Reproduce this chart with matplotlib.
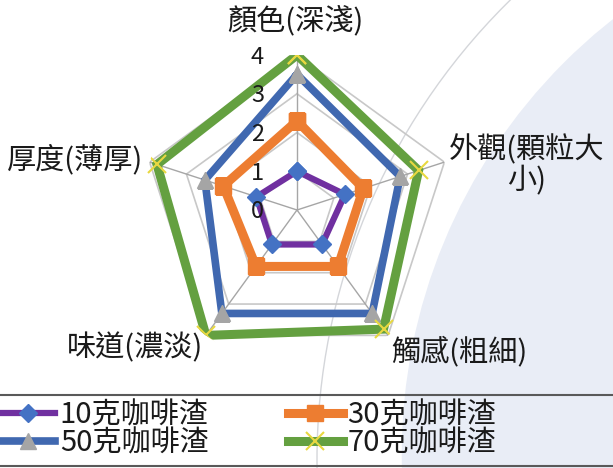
import numpy as np
import matplotlib
matplotlib.use("Agg")
import matplotlib.pyplot as plt
from matplotlib.lines import Line2D
from matplotlib.patches import Ellipse

plt.rcParams['font.family'] = ['Noto Sans CJK TC', 'DejaVu Sans']

# ---- data ----
categories = ['顏色(深淺)', '外觀(顆粒大\n小)', '觸感(粗細)', '味道(濃淡)', '厚度(薄厚)']
series_names = ['10克咖啡渣', '30克咖啡渣', '50克咖啡渣', '70克咖啡渣']
values_10 = [1.0, 1.3, 1.1, 1.1, 1.1]
values_30 = [2.3, 1.8, 1.8, 1.8, 2.0]
values_50 = [3.5, 2.8, 3.3, 3.3, 2.5]
values_70 = [4.0, 3.3, 3.8, 4.0, 3.8]
tick_values = [0, 1, 2, 3, 4]

W, H = 613, 468
fig = plt.figure(figsize=(W / 100, H / 100), dpi=100)
fig.patch.set_facecolor('white')

# soft background disc on the right
fig.add_artist(Ellipse((955 / W, 14 / H), 2 * 555 / W, 2 * 555 / H,
                       transform=fig.transFigure, facecolor='#E9EDF6',
                       edgecolor='white', lw=2.5, zorder=0))
fig.add_artist(Ellipse((961 / W, 8 / H), 2 * 644 / W, 2 * 644 / H,
                       transform=fig.transFigure, facecolor='none',
                       edgecolor='#D4D6DA', lw=1.0, zorder=0))

# polar axes: centre at (297, 210) px, radius 155 px for value 4
cx, cy, R = 297, 210, 155
ax = fig.add_axes([(cx - R) / W, (H - cy - R) / H, 2 * R / W, 2 * R / H],
                  projection='polar')
ax.patch.set_alpha(0)
ax.set_theta_offset(np.pi / 2)
ax.set_theta_direction(-1)
ax.set_ylim(0, 4)
ax.grid(False)
ax.spines['polar'].set_visible(False)
ax.set_xticks([])
ax.set_yticks([])

n = len(categories)
angles = np.linspace(0, 2 * np.pi, n, endpoint=False)
closed = np.append(angles, angles[0])

# pentagon grid
for t in tick_values:
    ax.plot(closed, [t] * (n + 1), color='#C8C8C8', lw=1.2, zorder=1)
for a in angles:
    ax.plot([a, a], [0, max(tick_values)], color='#A6A6A6', lw=1.0, zorder=1)

styles = [
    dict(color='#7030A0', lw=4.5, marker='D', ms=9, mfc='#4472C4', mec='#4472C4'),
    dict(color='#ED7D31', lw=6.5, marker='s', ms=12, mfc='#ED7D31', mec='#ED7D31'),
    dict(color='#4068B0', lw=5.5, marker='^', ms=12, mfc='#A5A5A5', mec='#A5A5A5'),
    dict(color='#64A040', lw=6.5, marker='x', ms=13, mfc='#E8D840', mec='#E8D840', mew=1.5),
]
handles = []
for name, vals, st in zip(series_names,
                          [values_10, values_30, values_50, values_70], styles):
    h, = ax.plot(closed, list(vals) + [vals[0]], label=name, zorder=3,
                 solid_joinstyle='miter', **st)
    handles.append(h)

# value labels along the top spoke, drawn above the series
for t in tick_values:
    ax.annotate(str(t), xy=(0, t), xytext=(-33, -2), textcoords='offset pixels',
                ha='right', va='center', fontsize=17, color='#1a1a1a',
                annotation_clip=False, zorder=10)

# category labels around the outside
label_offsets = [(-2, 33), (82, -3), (71, -17), (-71, -13), (-75, 2)]
for a, lab, off in zip(angles, categories, label_offsets):
    ax.annotate(lab, xy=(a, 4), xytext=off, textcoords='offset pixels',
                ha='center', va='center', multialignment='center',
                fontsize=21, color='#1a1a1a', annotation_clip=False,
                linespacing=1.0, zorder=10)

# legend band at the bottom
order = [0, 2, 1, 3]
leg = fig.legend([handles[i] for i in order], [series_names[i] for i in order],
                 ncol=2, loc='upper left', bbox_to_anchor=(0.0, 1 - 400 / H),
                 bbox_transform=fig.transFigure, frameon=False, fontsize=21,
                 handlelength=1.9, handletextpad=0.15, columnspacing=2.7,
                 labelspacing=-0.05, borderpad=0, borderaxespad=0)
for t in leg.get_texts():
    t.set_color('#1a1a1a')

for yy in (395, 466):
    fig.add_artist(Line2D([0, 1], [1 - yy / H, 1 - yy / H],
                          transform=fig.transFigure, color='#595959', lw=1.5))

fig.savefig('out.png', dpi=100)
